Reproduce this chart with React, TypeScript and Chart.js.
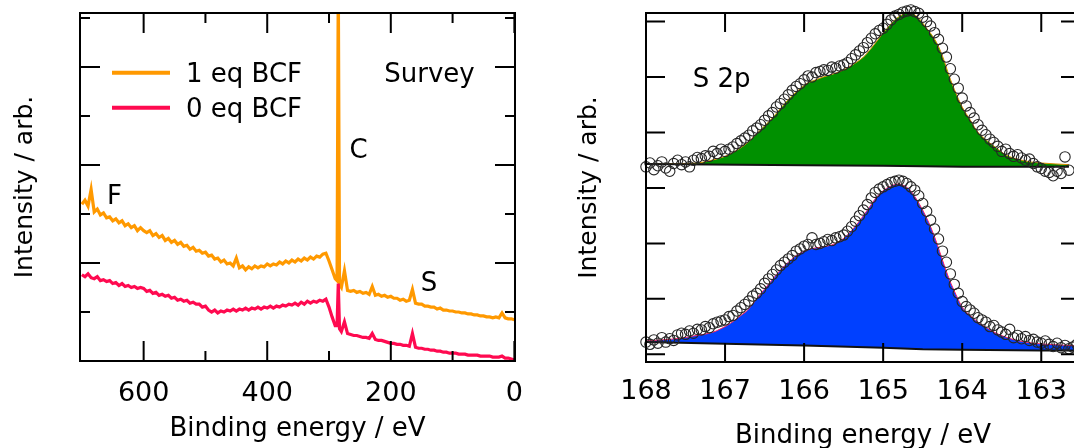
import React, { useEffect, useRef } from "react";
import { Chart, registerables } from "chart.js";

Chart.register(...registerables);

const FONT = "DejaVu Sans";

// ---------------- Survey panel data ----------------
const surveyEnergy = [
  700, 695, 690, 685, 680, 675, 670, 665, 660, 655,
  650, 645, 640, 635, 630, 625, 620, 615, 610, 605,
  600, 595, 590, 585, 580, 575, 570, 565, 560, 555,
  550, 545, 540, 535, 530, 525, 520, 515, 510, 505,
  500, 495, 490, 485, 480, 475, 470, 465, 460, 455,
  450, 445, 440, 435, 430, 425, 420, 415, 410, 405,
  400, 395, 390, 385, 380, 375, 370, 365, 360, 355,
  350, 345, 340, 335, 330, 325, 320, 315, 310, 305,
  300, 295, 290, 287, 285, 283, 280, 275, 270, 265,
  260, 255, 250, 245, 240, 235, 230, 225, 220, 215,
  210, 205, 200, 195, 190, 185, 180, 175, 170, 165,
  160, 155, 150, 145, 140, 135, 130, 125, 120, 115,
  110, 105, 100, 95, 90, 85, 80, 75, 70, 65,
  60, 55, 50, 45, 40, 35, 30, 25, 20, 15,
  10, 5, 0,
];

const survey1eq = [
  1.60, 1.64, 1.58, 1.75, 1.52, 1.55, 1.49, 1.51, 1.46, 1.47,
  1.43, 1.45, 1.41, 1.43, 1.38, 1.40, 1.36, 1.38, 1.33, 1.36,
  1.33, 1.31, 1.33, 1.28, 1.30, 1.26, 1.28, 1.23, 1.25, 1.21,
  1.23, 1.19, 1.21, 1.17, 1.18, 1.14, 1.16, 1.12, 1.13, 1.10,
  1.11, 1.07, 1.08, 1.04, 1.05, 1.01, 1.03, 0.99, 1.00, 0.97,
  1.05, 0.95, 0.97, 0.93, 0.96, 0.94, 0.97, 0.95, 0.97, 0.96,
  0.99, 0.97, 0.99, 0.98, 1.01, 0.99, 1.02, 1.00, 1.03, 1.01,
  1.04, 1.02, 1.05, 1.03, 1.06, 1.04, 1.07, 1.06, 1.09, 1.10,
  1.02, 0.93, 0.84, 0.82, 3.90, 0.78, 0.75, 0.92, 0.72, 0.71,
  0.72, 0.70, 0.71, 0.69, 0.70, 0.68, 0.76, 0.67, 0.68, 0.66,
  0.67, 0.65, 0.66, 0.64, 0.64, 0.62, 0.63, 0.61, 0.62, 0.73,
  0.59, 0.58, 0.58, 0.56, 0.56, 0.55, 0.55, 0.53, 0.54, 0.52,
  0.52, 0.51, 0.51, 0.50, 0.50, 0.49, 0.49, 0.48, 0.48, 0.47,
  0.47, 0.46, 0.46, 0.45, 0.45, 0.44, 0.45, 0.44, 0.49, 0.44,
  0.43, 0.43, 0.42,
];

const survey0eq = [
  0.88, 0.86, 0.89, 0.85, 0.84, 0.86, 0.82, 0.83, 0.81, 0.82,
  0.79, 0.80, 0.77, 0.79, 0.76, 0.77, 0.75, 0.76, 0.74, 0.75,
  0.74, 0.71, 0.72, 0.69, 0.70, 0.67, 0.68, 0.66, 0.67, 0.64,
  0.65, 0.62, 0.63, 0.61, 0.62, 0.59, 0.60, 0.58, 0.58, 0.55,
  0.56, 0.52, 0.50, 0.52, 0.49, 0.51, 0.50, 0.52, 0.51, 0.53,
  0.51, 0.53, 0.52, 0.54, 0.52, 0.54, 0.53, 0.55, 0.53, 0.55,
  0.54, 0.56, 0.54, 0.56, 0.55, 0.57, 0.56, 0.58, 0.57, 0.59,
  0.57, 0.60, 0.58, 0.61, 0.59, 0.61, 0.60, 0.62, 0.61, 0.63,
  0.55, 0.45, 0.36, 0.36, 0.79, 0.33, 0.30, 0.40, 0.28, 0.27,
  0.26, 0.26, 0.25, 0.24, 0.24, 0.23, 0.28, 0.22, 0.21, 0.21,
  0.20, 0.19, 0.18, 0.18, 0.17, 0.17, 0.16, 0.16, 0.15, 0.28,
  0.14, 0.13, 0.13, 0.12, 0.12, 0.11, 0.11, 0.10, 0.10, 0.09,
  0.09, 0.08, 0.08, 0.08, 0.07, 0.07, 0.07, 0.06, 0.06, 0.06,
  0.06, 0.05, 0.05, 0.05, 0.05, 0.04, 0.04, 0.04, 0.05, 0.03,
  0.03, 0.02, 0.01,
];

const surveyLabels = ["1 eq BCF", "0 eq BCF"];
const surveyTickLabels = [600, 400, 200, 0];
const surveyMinorX = [500, 300, 100];
const surveyMajorY = [1, 2, 3];
const surveyMinorY = [0.5, 1.5, 2.5, 3.5];

// ---------------- S 2p panel data ----------------
const s2pTickLabels = [168, 167, 166, 165, 164, 163];
const s2pMajorY = [0, 1, 2, 3, 4, 5, 6];

const greenEnvEV = [
  168.0, 167.6, 167.35, 167.2, 167.02, 166.9, 166.72, 166.6, 166.43, 166.3,
  166.17, 166.05, 165.96, 165.85, 165.76, 165.6, 165.5, 165.4, 165.25, 165.15,
  165.04, 164.95, 164.83, 164.75, 164.7, 164.6, 164.53, 164.45, 164.38, 164.32,
  164.25, 164.16, 164.1, 164.0, 163.9, 163.82, 163.75, 163.65, 163.55, 163.44,
  163.3, 163.14, 163.0, 162.65,
];
const greenEnv = [
  3.43, 3.44, 3.45, 3.49, 3.56, 3.64, 3.81, 3.98, 4.22, 4.43,
  4.64, 4.79, 4.89, 4.95, 5.0, 5.07, 5.13, 5.21, 5.36, 5.52,
  5.72, 5.88, 6.06, 6.13, 6.15, 6.12, 6.03, 5.88, 5.75, 5.61,
  5.38, 5.0, 4.78, 4.46, 4.23, 4.04, 3.93, 3.81, 3.7, 3.59,
  3.52, 3.47, 3.45, 3.42,
];
const greenBaseEV = [168.0, 166.0, 165.0, 164.0, 162.65];
const greenBase = [3.43, 3.41, 3.4, 3.38, 3.38];

const blueEnvEV = [
  168.0, 167.8, 167.56, 167.4, 167.15, 167.0, 166.93, 166.8, 166.72, 166.6,
  166.51, 166.4, 166.3, 166.2, 166.09, 166.0, 165.92, 165.8, 165.71, 165.6,
  165.5, 165.4, 165.29, 165.2, 165.08, 165.0, 164.91, 164.81, 164.75, 164.66,
  164.58, 164.5, 164.4, 164.32, 164.25, 164.16, 164.08, 164.0, 163.9, 163.78,
  163.67, 163.57, 163.45, 163.31, 163.1, 162.93, 162.5,
];
const blueEnv = [
  0.24, 0.26, 0.29, 0.33, 0.4, 0.5, 0.56, 0.7, 0.79, 1.0,
  1.16, 1.35, 1.52, 1.66, 1.79, 1.86, 1.9, 1.93, 1.95, 2.0,
  2.09, 2.23, 2.42, 2.6, 2.84, 2.95, 3.03, 3.07, 3.05, 2.96,
  2.8, 2.6, 2.3, 2.0, 1.7, 1.34, 1.08, 0.85, 0.7, 0.56,
  0.46, 0.38, 0.31, 0.25, 0.2, 0.18, 0.15,
];
const blueBaseEV = [168.0, 166.0, 165.0, 164.5, 164.0, 163.0, 162.5];
const blueBase = [0.22, 0.16, 0.12, 0.09, 0.08, 0.07, 0.07];

const circleEV = [
  168.0, 167.95, 167.9, 167.85, 167.8, 167.75, 167.7, 167.65, 167.6, 167.55,
  167.5, 167.45, 167.4, 167.35, 167.3, 167.25, 167.2, 167.15, 167.1, 167.05,
  167.0, 166.95, 166.9, 166.85, 166.8, 166.75, 166.7, 166.65, 166.6, 166.55,
  166.5, 166.45, 166.4, 166.35, 166.3, 166.25, 166.2, 166.15, 166.1, 166.05,
  166.0, 165.95, 165.9, 165.85, 165.8, 165.75, 165.7, 165.65, 165.6, 165.55,
  165.5, 165.45, 165.4, 165.35, 165.3, 165.25, 165.2, 165.15, 165.1, 165.05,
  165.0, 164.95, 164.9, 164.85, 164.8, 164.75, 164.7, 164.65, 164.6, 164.55,
  164.5, 164.45, 164.4, 164.35, 164.3, 164.25, 164.2, 164.15, 164.1, 164.05,
  164.0, 163.95, 163.9, 163.85, 163.8, 163.75, 163.7, 163.65, 163.6, 163.55,
  163.5, 163.45, 163.4, 163.35, 163.3, 163.25, 163.2, 163.15, 163.1, 163.05,
  163.0, 162.95, 162.9, 162.85, 162.8, 162.75, 162.7, 162.65, 162.6, 162.55,
];

const greenCircles = [
  3.38, 3.45, 3.33, 3.4, 3.47, 3.36, 3.3, 3.44, 3.5, 3.42,
  3.47, 3.38, 3.5, 3.55, 3.53, 3.58, 3.57, 3.66, 3.62, 3.7,
  3.66, 3.7, 3.74, 3.8, 3.85, 3.9, 3.95, 4.03, 4.08, 4.14,
  4.22, 4.3, 4.36, 4.46, 4.52, 4.6, 4.68, 4.76, 4.83, 4.88,
  4.95, 5.02, 5.0, 5.08, 5.1, 5.13, 5.12, 5.18, 5.16, 5.2,
  5.22, 5.26, 5.33, 5.4, 5.47, 5.53, 5.62, 5.7, 5.78, 5.84,
  5.88, 5.95, 6.03, 6.1, 6.13, 6.17, 6.19, 6.21, 6.18, 6.15,
  6.08, 6.0, 5.92, 5.8, 5.68, 5.52, 5.36, 5.15, 4.96, 4.8,
  4.62, 4.48, 4.36, 4.26, 4.14, 4.04, 3.96, 3.88, 3.82, 3.75,
  3.66, 3.7, 3.62, 3.57, 3.6, 3.54, 3.5, 3.52, 3.44, 3.38,
  3.35, 3.3, 3.28, 3.22, 3.3, 3.26, 3.56, 3.32,
];

const blueCircles = [
  0.22, 0.18, 0.26, 0.2, 0.3, 0.22, 0.28, 0.25, 0.35, 0.38,
  0.36, 0.42, 0.38, 0.45, 0.44, 0.5, 0.48, 0.55, 0.58, 0.6,
  0.62, 0.68, 0.7, 0.78, 0.84, 0.9, 0.96, 1.05, 1.1, 1.18,
  1.28, 1.36, 1.44, 1.52, 1.6, 1.66, 1.72, 1.78, 1.86, 1.9,
  1.95, 1.98, 2.1, 1.98, 2.0, 2.03, 2.07, 2.05, 2.1, 2.12,
  2.15, 2.22, 2.3, 2.4, 2.5, 2.6, 2.7, 2.82, 2.92, 2.98,
  3.02, 3.06, 3.1, 3.12, 3.14, 3.12, 3.08, 3.02, 2.96, 2.86,
  2.72, 2.58, 2.42, 2.26, 2.08, 1.86, 1.66, 1.45, 1.26, 1.1,
  0.95, 0.86, 0.8, 0.74, 0.66, 0.62, 0.58, 0.5, 0.52, 0.44,
  0.4, 0.36, 0.45, 0.3, 0.34, 0.28, 0.32, 0.25, 0.27, 0.22,
  0.2, 0.24, 0.18, 0.14, 0.2, 0.12, 0.16, 0.1, 0.13, 0.18,
];

// ---------------- colours ----------------
const ORANGE = "#FF9900";
const RED = "#FF0A50";
const GREEN = "#009000";
const BLUE = "#0040FF";

const zip = (xs: number[], ys: number[]) => ys.map((y, i) => ({ x: xs[i], y }));

type FrameCfg = {
  xMajor: number[];
  xMinor: number[];
  yMajor: number[];
  yMinor: number[];
  major: number;
  minor: number;
};

function framePlugin(id: string, cfg: FrameCfg) {
  return {
    id,
    afterDatasetsDraw(chart: any) {
      const { ctx, chartArea: a, scales } = chart;
      const xs = scales.x;
      const ys = scales.y;
      ctx.save();
      ctx.strokeStyle = "#000";
      ctx.lineWidth = 2;
      ctx.beginPath();
      const xt = (vals: number[], len: number) => {
        for (const v of vals) {
          const p = xs.getPixelForValue(v);
          ctx.moveTo(p, a.bottom);
          ctx.lineTo(p, a.bottom - len);
          ctx.moveTo(p, a.top);
          ctx.lineTo(p, a.top + len);
        }
      };
      const yt = (vals: number[], len: number) => {
        for (const v of vals) {
          const p = ys.getPixelForValue(v);
          ctx.moveTo(a.left, p);
          ctx.lineTo(a.left + len, p);
          ctx.moveTo(a.right, p);
          ctx.lineTo(a.right - len, p);
        }
      };
      xt(cfg.xMajor, cfg.major);
      xt(cfg.xMinor, cfg.minor);
      yt(cfg.yMajor, cfg.major);
      yt(cfg.yMinor, cfg.minor);
      ctx.stroke();
      ctx.strokeRect(a.left, a.top, a.right - a.left, a.bottom - a.top);
      ctx.restore();
    },
  };
}

type TextItem = { text: string; x: number; y: number; align?: CanvasTextAlign };
type LegendItem = { text: string; color: string; y: number };

function annotPlugin(id: string, texts: TextItem[], legend: LegendItem[]) {
  return {
    id,
    afterDraw(chart: any) {
      const { ctx } = chart;
      ctx.save();
      ctx.fillStyle = "#000";
      ctx.font = `26px "${FONT}"`;
      ctx.textBaseline = "middle";
      for (const t of texts) {
        ctx.textAlign = t.align || "center";
        ctx.fillText(t.text, t.x, t.y);
      }
      for (const l of legend) {
        ctx.strokeStyle = l.color;
        ctx.lineWidth = 4;
        ctx.beginPath();
        ctx.moveTo(112, l.y - 2);
        ctx.lineTo(170, l.y - 2);
        ctx.stroke();
        ctx.textAlign = "left";
        ctx.fillText(l.text, 186, l.y);
      }
      ctx.restore();
    },
  };
}

function SurveyChart() {
  const ref = useRef<HTMLCanvasElement>(null);
  useEffect(() => {
    const chart = new Chart(ref.current as HTMLCanvasElement, {
      type: "line",
      data: {
        datasets: [
          {
            label: surveyLabels[0],
            data: zip(surveyEnergy, survey1eq),
            borderColor: ORANGE,
            borderWidth: 3.2,
            pointRadius: 0,
            tension: 0,
            order: 1,
          },
          {
            label: surveyLabels[1],
            data: zip(surveyEnergy, survey0eq),
            borderColor: RED,
            borderWidth: 3.2,
            pointRadius: 0,
            tension: 0,
            order: 0,
          },
        ],
      },
      options: {
        animation: false,
        responsive: false,
        devicePixelRatio: 1,
        layout: { padding: { left: 0, right: 25, top: 13, bottom: 0 } },
        plugins: { legend: { display: false }, tooltip: { enabled: false } },
        scales: {
          x: {
            type: "linear",
            reverse: true,
            min: -1,
            max: 703,
            grid: { display: false, drawTicks: false },
            border: { display: false },
            ticks: {
              font: { family: FONT, size: 27 },
              color: "#000",
              padding: 17,
              maxRotation: 0,
              autoSkip: false,
              callback: (v: any) => String(v),
            },
            afterBuildTicks: (s: any) => {
              s.ticks = surveyTickLabels.map((v) => ({ value: v }));
            },
            title: {
              display: true,
              text: "Binding energy / eV",
              font: { family: FONT, size: 26 },
              color: "#000",
              padding: { top: 0, bottom: 3 },
            },
            afterFit: (s: any) => {
              s.height = 87;
            },
          },
          y: {
            type: "linear",
            min: 0,
            max: 3.55,
            grid: { display: false, drawTicks: false },
            border: { display: false },
            ticks: { display: false },
            title: {
              display: true,
              text: "Intensity / arb.",
              font: { family: FONT, size: 25 },
              color: "#000",
              padding: { top: 10, bottom: 0 },
            },
            afterFit: (s: any) => {
              s.width = 80;
            },
          },
        },
      } as any,
      plugins: [
        framePlugin("surveyFrame", {
          xMajor: surveyTickLabels,
          xMinor: surveyMinorX,
          yMajor: surveyMajorY,
          yMinor: surveyMinorY,
          major: 20,
          minor: 10,
        }),
        annotPlugin(
          "surveyAnnot",
          [
            { text: "Survey", x: 429.5, y: 75.7 },
            { text: "F", x: 114.5, y: 197.7 },
            { text: "C", x: 358.5, y: 151.7 },
            { text: "S", x: 429, y: 284.7 },
          ],
          [
            { text: surveyLabels[0], color: ORANGE, y: 74.8 },
            { text: surveyLabels[1], color: RED, y: 109.8 },
          ]
        ),
      ],
    });
    return () => chart.destroy();
  }, []);
  return (
    <canvas
      ref={ref}
      width={540}
      height={448}
      style={{ position: "absolute", left: 0, top: 0, width: 540, height: 448, display: "block" }}
    />
  );
}

function S2pChart() {
  const ref = useRef<HTMLCanvasElement>(null);
  useEffect(() => {
    const circleStyle = {
      showLine: false,
      pointRadius: 5.2,
      pointHoverRadius: 5.2,
      pointBorderColor: "#262626",
      pointBackgroundColor: "rgba(0,0,0,0)",
      pointBorderWidth: 1.1,
      borderColor: "#262626",
      clip: false,
      order: 0,
    };
    const chart = new Chart(ref.current as HTMLCanvasElement, {
      type: "line",
      data: {
        datasets: [
          {
            data: zip(greenEnvEV, greenEnv),
            borderColor: "#D98C00",
            borderWidth: 1,
            backgroundColor: GREEN,
            fill: { target: 1 },
            pointRadius: 0,
            cubicInterpolationMode: "monotone",
            order: 2,
          },
          {
            data: zip(greenBaseEV, greenBase),
            borderColor: "#111",
            borderWidth: 2,
            pointRadius: 0,
            fill: false,
            order: 1,
          },
          {
            data: zip(blueEnvEV, blueEnv),
            borderColor: "#FF2060",
            borderWidth: 1,
            backgroundColor: BLUE,
            fill: { target: 3 },
            pointRadius: 0,
            cubicInterpolationMode: "monotone",
            order: 2,
          },
          {
            data: zip(blueBaseEV, blueBase),
            borderColor: "#111",
            borderWidth: 2,
            pointRadius: 0,
            fill: false,
            order: 1,
          },
          { data: zip(circleEV, greenCircles), ...circleStyle },
          { data: zip(circleEV, blueCircles), ...circleStyle },
        ],
      },
      options: {
        animation: false,
        responsive: false,
        devicePixelRatio: 1,
        layout: { padding: { left: 0, right: 20, top: 13, bottom: 0 } },
        plugins: { legend: { display: false }, tooltip: { enabled: false } },
        scales: {
          x: {
            type: "linear",
            reverse: true,
            min: 162.51,
            max: 168,
            grid: { display: false, drawTicks: false },
            border: { display: false },
            ticks: {
              font: { family: FONT, size: 27 },
              color: "#000",
              padding: 14,
              maxRotation: 0,
              autoSkip: false,
              callback: (v: any) => String(v),
            },
            afterBuildTicks: (s: any) => {
              s.ticks = s2pTickLabels.map((v) => ({ value: v }));
            },
            title: {
              display: true,
              text: "Binding energy / eV",
              font: { family: FONT, size: 26 },
              color: "#000",
              padding: { top: 0, bottom: 8 },
            },
            afterFit: (s: any) => {
              s.height = 98;
            },
          },
          y: {
            type: "linear",
            min: -0.139,
            max: 6.155,
            grid: { display: false, drawTicks: false },
            border: { display: false },
            ticks: { display: false },
            title: {
              display: true,
              text: "Intensity / arb.",
              font: { family: FONT, size: 25 },
              color: "#000",
              padding: { top: 34, bottom: 0 },
            },
            afterFit: (s: any) => {
              s.width = 106;
            },
          },
        },
      } as any,
      plugins: [
        framePlugin("s2pFrame", {
          xMajor: s2pTickLabels.slice(1),
          xMinor: [],
          yMajor: s2pMajorY,
          yMinor: [],
          major: 19,
          minor: 10,
        }),
        annotPlugin("s2pAnnot", [{ text: "S 2p", x: 181.7, y: 80.2 }], []),
      ],
    });
    return () => chart.destroy();
  }, []);
  return (
    <canvas
      ref={ref}
      width={560}
      height={460}
      style={{ position: "absolute", left: 540, top: 0, width: 560, height: 460, display: "block" }}
    />
  );
}

export default function App() {
  return (
    <div
      style={{
        position: "fixed",
        left: 0,
        top: 0,
        width: 1074,
        height: 448,
        overflow: "hidden",
        background: "#fff",
      }}
    >
      <SurveyChart />
      <S2pChart />
    </div>
  );
}
